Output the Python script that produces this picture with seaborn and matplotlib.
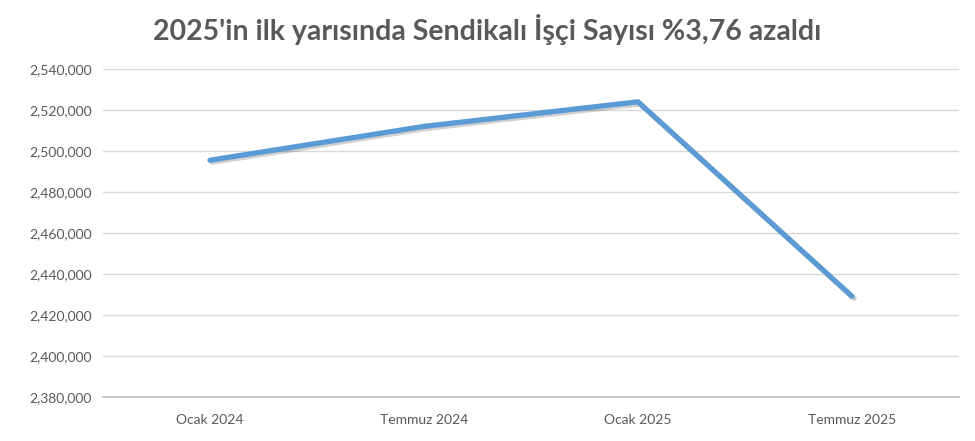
import matplotlib
matplotlib.use("Agg")
import matplotlib.pyplot as plt
import matplotlib.patheffects as pe
from matplotlib.ticker import FuncFormatter
import seaborn as sns
import pandas as pd

categories = ["Ocak 2024", "Temmuz 2024", "Ocak 2025", "Temmuz 2025"]
values = [2495500, 2512000, 2524000, 2429100]
title = "2025'in ilk yarısında Sendikalı İşçi Sayısı %3,76 azaldı"

sns.set_theme(style="white")
plt.rcParams['font.family'] = ['Lato', 'DejaVu Sans']

df = pd.DataFrame({"Dönem": categories, "Sayı": values})
df["x"] = range(len(categories))

fig = plt.figure(figsize=(9.75, 4.41), dpi=100)
ax = fig.add_axes([0.1056, 0.0998, 0.878, 0.7437])

sns.lineplot(data=df, x="x", y="Sayı", ax=ax, color="#5B9BD5", linewidth=3.8,
             solid_capstyle="round", solid_joinstyle="miter",
             path_effects=[pe.SimpleLineShadow(offset=(1.5, -1.5), alpha=0.18, shadow_color="black"),
                           pe.Normal()])

ax.set_xlim(-0.5, 3.5)
ax.set_ylim(2380000, 2540000)
ax.set_yticks(range(2380000, 2540001, 20000))
ax.yaxis.set_major_formatter(FuncFormatter(lambda v, p: f"{int(v):,}"))
ax.set_xticks(df["x"])
ax.set_xticklabels(categories)
ax.set_xlabel("")
ax.set_ylabel("")
ax.grid(axis="y", color="#D9D9D9", linewidth=1)
ax.set_axisbelow(True)
for s in ["top", "right", "left"]:
    ax.spines[s].set_visible(False)
ax.spines["bottom"].set_color("#BFBFBF")
ax.spines["bottom"].set_linewidth(1.2)
ax.tick_params(axis="both", length=0, labelsize=10, labelcolor="#595959", pad=8)
ax.tick_params(axis="x", pad=12)

fig.text(0.5, 0.933, title, ha="center", va="center", fontsize=20.5, fontweight="bold", color="#595959")

fig.savefig("out.png", dpi=100)
